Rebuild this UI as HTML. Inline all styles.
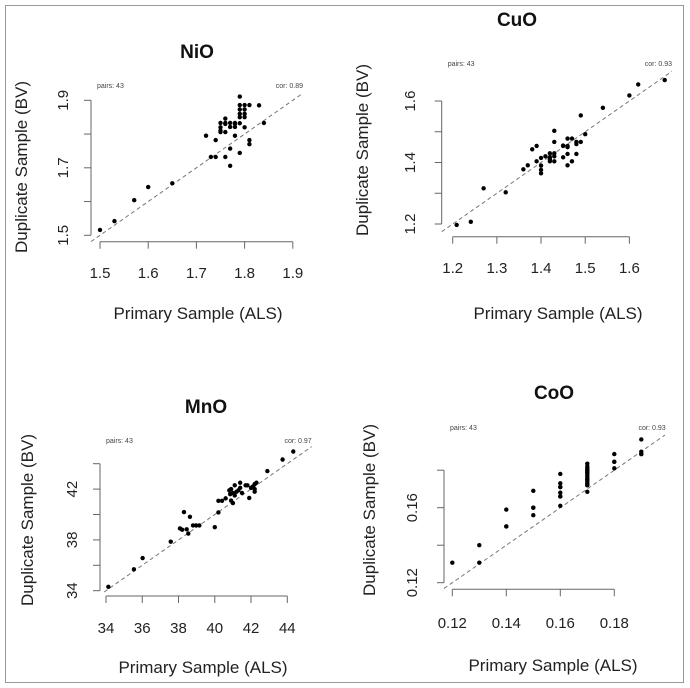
<!DOCTYPE html>
<html><head><meta charset="utf-8"><style>
html,body{margin:0;padding:0;background:#fff;}
svg{display:block;font-family:"Liberation Sans",Arial,sans-serif;}
</style></head><body>
<svg id="chart" width="690" height="688" viewBox="0 0 690 688" xmlns="http://www.w3.org/2000/svg">
<rect x="5.5" y="5.5" width="678" height="677" fill="#fff" stroke="#999" stroke-width="1"/>
</svg>
<script>
// NiO
const nioX = [1.50,1.53,1.571,1.60,1.65,1.72,1.73,1.74,1.74,1.75,1.76,1.75,1.76,1.76,1.76,1.77,1.77,1.78,1.78,1.77,1.77,1.78,1.79,1.79,1.79,1.79,1.80,1.80,1.80,1.81,1.79,1.79,1.80,1.81,1.81,1.83,1.84,1.79,1.80,1.78,1.75,1.76,1.75];
const nioY = [1.516,1.542,1.604,1.643,1.654,1.795,1.732,1.732,1.782,1.833,1.833,1.806,1.806,1.846,1.732,1.833,1.821,1.821,1.833,1.757,1.706,1.795,1.911,1.886,1.873,1.860,1.886,1.873,1.860,1.886,1.832,1.744,1.820,1.782,1.770,1.885,1.833,1.850,1.850,1.830,1.810,1.830,1.820];
// CuO
const cuoX = [1.209,1.241,1.27,1.32,1.36,1.37,1.38,1.39,1.39,1.40,1.40,1.40,1.40,1.42,1.42,1.42,1.43,1.43,1.43,1.43,1.45,1.46,1.45,1.46,1.47,1.46,1.46,1.47,1.48,1.49,1.48,1.49,1.50,1.54,1.60,1.62,1.68,1.42,1.43,1.46,1.45,1.48,1.41];
const cuoY = [1.197,1.207,1.316,1.303,1.378,1.391,1.443,1.454,1.404,1.415,1.390,1.376,1.365,1.430,1.417,1.404,1.430,1.404,1.503,1.467,1.454,1.454,1.417,1.478,1.478,1.428,1.391,1.404,1.467,1.467,1.428,1.553,1.492,1.578,1.618,1.654,1.668,1.410,1.420,1.450,1.455,1.460,1.420];
// MnO
const mnoX = [34.13,35.54,36.02,37.57,38.08,38.2,38.3,38.45,38.54,38.63,38.8,38.97,39.15,40.0,40.2,40.2,40.4,40.6,40.8,40.9,40.85,41.0,40.9,41.0,41.1,41.2,41.3,41.4,41.4,41.5,41.7,41.8,41.9,42.1,42.2,42.2,42.3,42.2,42.0,41.1,42.9,43.74,44.33];
const mnoY = [34.31,35.68,36.57,37.86,38.9,38.8,40.19,38.83,38.5,39.82,39.14,39.14,39.14,39.0,40.16,41.08,41.08,41.27,41.9,42.0,41.6,41.7,41.1,40.9,42.3,41.8,41.9,42.5,42.1,41.7,42.3,42.3,41.3,42.2,42.0,42.4,42.5,41.8,42.1,41.5,43.42,44.33,44.96];
// CoO
const cooX = [0.12,0.13,0.13,0.14,0.14,0.15,0.15,0.15,0.16,0.16,0.16,0.16,0.16,0.16,0.17,0.17,0.17,0.17,0.17,0.17,0.17,0.17,0.17,0.17,0.17,0.17,0.17,0.18,0.18,0.18,0.19,0.19,0.19,0.17,0.17,0.16,0.16,0.17,0.17,0.18,0.19,0.15,0.14];
const cooY = [0.1307,0.1307,0.140,0.150,0.159,0.156,0.160,0.169,0.161,0.166,0.168,0.171,0.173,0.178,0.1685,0.172,0.174,0.175,0.177,0.178,0.179,0.180,0.181,0.182,0.1835,0.176,0.173,0.181,0.1845,0.1886,0.1964,0.1899,0.1886,0.172,0.180,0.171,0.166,0.175,0.179,0.1845,0.1886,0.160,0.150];
const xTicksNiO=[1.5,1.6,1.7,1.8,1.9], yTicksNiO=[1.5,1.6,1.7,1.8,1.9], yLabNiO=["1.5","","1.7","","1.9"], xLabNiO=["1.5","1.6","1.7","1.8","1.9"];
const xTicksCuO=[1.2,1.3,1.4,1.5,1.6], yTicksCuO=[1.2,1.3,1.4,1.5,1.6], yLabCuO=["1.2","","1.4","","1.6"], xLabCuO=["1.2","1.3","1.4","1.5","1.6"];
const xTicksMnO=[34,36,38,40,42,44], yTicksMnO=[34,36,38,40,42,44], yLabMnO=["34","","38","","42",""], xLabMnO=["34","36","38","40","42","44"];
const xTicksCoO=[0.12,0.14,0.16,0.18], yTicksCoO=[0.12,0.14,0.16,0.18], yLabCoO=["0.12","","0.16",""], xLabCoO=["0.12","0.14","0.16","0.18"];
const corNiO="cor: 0.89", corCuO="cor: 0.93", corMnO="cor: 0.97", corCoO="cor: 0.93";

const NS="http://www.w3.org/2000/svg";
const svg=document.getElementById('chart');
function mk(tag,attrs,parent,text){const e=document.createElementNS(NS,tag);for(const k in attrs)e.setAttribute(k,attrs[k]);if(text!==undefined)e.textContent=text;parent.appendChild(e);return e;}

function panel(c){
  const g=mk('g',{},svg);
  
  
  const sx=v=>c.x0px+(v-c.x0v)*c.xs, sy=v=>c.y0px-(v-c.y0v)*c.ys;
  const t=mk('text',{x:c.titleX,y:c.titleY,'text-anchor':'middle','font-size':19,'font-weight':'bold',fill:'#111'},g,c.title);
  
  
  const p=mk('text',{x:c.pl+6,y:c.pairsY,'font-size':7,fill:'#444'},g,'pairs: '+c.xs_.length);
  
  
  const co=mk('text',{x:c.pr,y:c.pairsY,'font-size':7,fill:'#444','text-anchor':'end'},g,c.cor);
  
  
  // diagonal clipped to plot region
  const lo=Math.max((c.pl-c.x0px)/c.xs+c.x0v, c.y0v-(c.pb-c.y0px)/c.ys);
  const hi=Math.min((c.pr-c.x0px)/c.xs+c.x0v, c.y0v+(c.y0px-c.pt)/c.ys);
  const d=mk('line',{x1:sx(lo),y1:sy(lo),x2:sx(hi),y2:sy(hi),stroke:'#777','stroke-width':1,'stroke-dasharray':'4,3'},g);
  
  
  // x axis
  const xa=mk('g',{},g);
  
  
  const xt=c.xt;
  mk('line',{x1:sx(xt[0]),x2:sx(xt[xt.length-1]),y1:c.xAxisY,y2:c.xAxisY,stroke:'#666'},xa);
  xt.forEach((v,i)=>{mk('line',{x1:sx(v),x2:sx(v),y1:c.xAxisY,y2:c.xAxisY+7,stroke:'#666'},xa);
    const l=mk('text',{x:sx(v),y:c.xLabY,'text-anchor':'middle','font-size':15,fill:'#222'},xa,c.xl[i]);
    
    });
  const ya=mk('g',{},g);
  
  
  const yt=c.yt;
  mk('line',{x1:c.yAxisX,x2:c.yAxisX,y1:sy(yt[0]),y2:sy(yt[yt.length-1]),stroke:'#666'},ya);
  yt.forEach((v,i)=>{mk('line',{x1:c.yAxisX,x2:c.yAxisX-7,y1:sy(v),y2:sy(v),stroke:'#666'},ya);
    if(c.yl[i]){const l=mk('text',{x:c.yLabX,y:sy(v),'text-anchor':'middle','font-size':15,fill:'#222',transform:`rotate(-90 ${c.yLabX} ${sy(v)})`},ya,c.yl[i]);
    
    }});
  const xtit=mk('text',{x:c.xTitX,y:c.xTitY,'text-anchor':'middle','font-size':17,fill:'#222'},g,'Primary Sample (ALS)');
  
  
  const ytit=mk('text',{x:c.yTitX,y:c.yTitY,'text-anchor':'middle','font-size':17,fill:'#222',transform:`rotate(-90 ${c.yTitX} ${c.yTitY})`},g,'Duplicate Sample (BV)');
  
  
  c.xs_.forEach((v,i)=>{const pt=mk('circle',{cx:sx(v),cy:sy(c.ys_[i]),r:2.2,fill:'#000'},g);
    
    });
}
panel({key:'nio',title:'NiO',titleX:197,titleY:58,xs_:nioX,ys_:nioY,cor:corNiO,
  x0v:1.5,x0px:100,xs:482,y0v:1.5,y0px:235.3,ys:337.5,pl:91,pr:303,pt:93,pb:242,pairsY:88,
  xt:xTicksNiO,xl:xLabNiO,yt:yTicksNiO,yl:yLabNiO,xAxisY:241.7,xLabY:278,yAxisX:91,yLabX:68,
  xTitX:198,xTitY:319,yTitX:27,yTitY:167});
panel({key:'cuo',title:'CuO',titleX:517,titleY:26,xs_:cuoX,ys_:cuoY,cor:corCuO,
  x0v:1.2,x0px:452.7,xs:441.7,y0v:1.2,y0px:224,ys:307.5,pl:441.7,pr:672,pt:70,pb:232,pairsY:66,
  xt:xTicksCuO,xl:xLabCuO,yt:yTicksCuO,yl:yLabCuO,xAxisY:236.7,xLabY:273,yAxisX:441.7,yLabX:415,
  xTitX:558,xTitY:319,yTitX:368,yTitY:150});
panel({key:'mno',title:'MnO',titleX:206,titleY:413,xs_:mnoX,ys_:mnoY,cor:corMnO,
  x0v:34,x0px:106,xs:18.13,y0v:34,y0px:590.7,ys:12.7,pl:100,pr:311.7,pt:446,pb:592,pairsY:443,
  xt:xTicksMnO,xl:xLabMnO,yt:yTicksMnO,yl:yLabMnO,xAxisY:596,xLabY:633,yAxisX:100,yLabX:77,
  xTitX:203,xTitY:673,yTitX:33,yTitY:520});
panel({key:'coo',title:'CoO',titleX:554,titleY:399,xs_:cooX,ys_:cooY,cor:corCoO,
  x0v:0.12,x0px:452.3,xs:2700,y0v:0.12,y0px:582.7,ys:1875,pl:444,pr:665.7,pt:435,pb:590,pairsY:430,
  xt:xTicksCoO,xl:xLabCoO,yt:yTicksCoO,yl:yLabCoO,xAxisY:589.3,xLabY:628,yAxisX:444,yLabX:417,
  xTitX:553,xTitY:671,yTitX:375,yTitY:510});
</script>
</body></html>
